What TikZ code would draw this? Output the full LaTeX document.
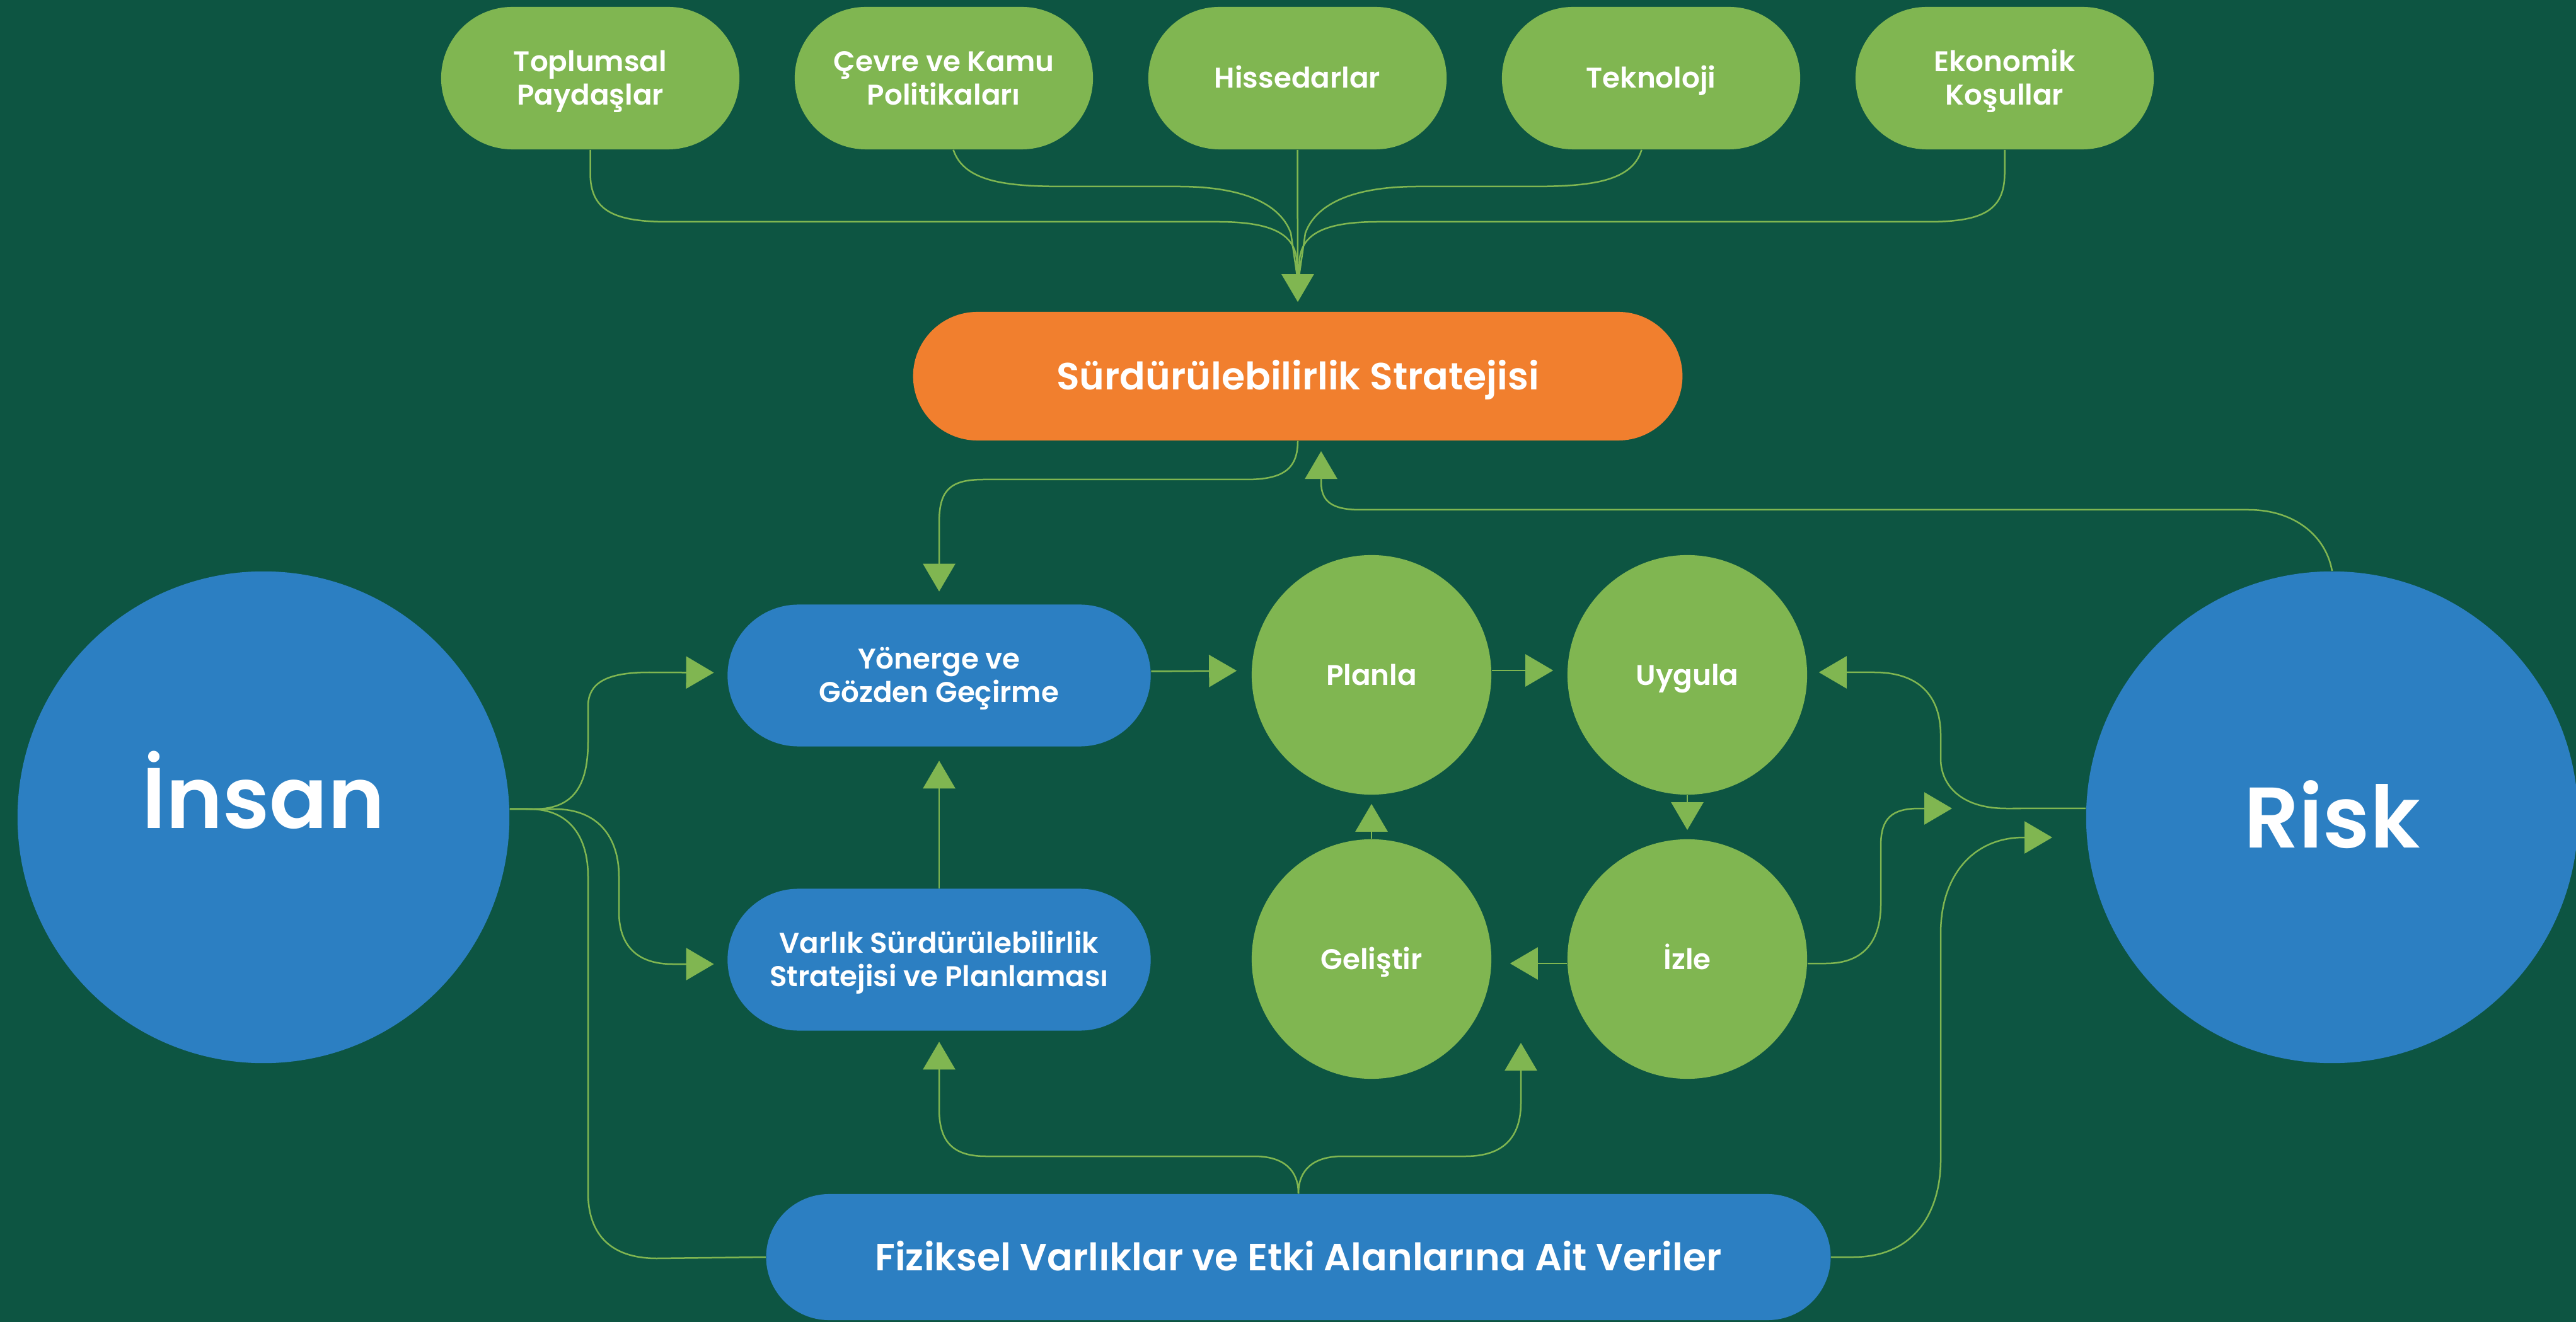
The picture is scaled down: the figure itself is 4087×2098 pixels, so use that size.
\documentclass[tikz,border=0pt]{standalone}
\usepackage{fontspec}
\setmainfont{Poppins}[UprightFont={* Medium},BoldFont={* SemiBold}]
\usetikzlibrary{arrows.meta}
\definecolor{bgc}{RGB}{13,85,66}
\definecolor{lgc}{RGB}{128,182,81}
\definecolor{blc}{RGB}{44,127,194}
\definecolor{orc}{RGB}{241,127,46}
\newcommand\dgSmall{\fontsize{12.85}{15.1}\selectfont\bfseries}
\newcommand\dgLarge{\fontsize{17.1}{20}\selectfont\bfseries}
\newcommand\dgHuge{\fontsize{38.8}{44}\selectfont\bfseries}
\begin{document}
\begin{tikzpicture}[x=0.01cm,y=-0.01cm,
  txt/.style={text=white, align=center, inner sep=0pt},
  one1/.style={text height=0.32cm, text depth=0pt},
  two2/.style={text height=0.85cm, text depth=0pt},
  pill/.style={txt, rectangle, fill=lgc, minimum width=4.73cm, minimum height=2.26cm, rounded corners=1.13cm, font=\dgSmall},
  orpill/.style={txt, rectangle, fill=orc, minimum width=12.2cm, minimum height=2.04cm, rounded corners=1.02cm, font=\dgLarge, text height=0.42cm, text depth=0pt},
  bpill/.style={txt, rectangle, fill=blc, minimum width=6.71cm, minimum height=2.25cm, rounded corners=1.125cm, font=\dgSmall},
  fizpill/.style={txt, rectangle, fill=blc, minimum width=16.88cm, minimum height=2.0cm, rounded corners=1.0cm, font=\dgLarge, text height=0.42cm, text depth=0pt},
  gcirc/.style={txt, circle, fill=lgc, minimum size=3.8cm, font=\dgSmall, one1},
  bcirc/.style={txt, circle, fill=blc, minimum size=7.8cm, font=\dgHuge, text height=0.97cm, text depth=0pt},
  conn/.style={draw=lgc, line width=0.025cm},
  arr/.style={conn, -{Triangle[length=0.44cm,width=0.51cm]}}
]
\fill[bgc] (0,0) rectangle (4087,2098);
\useasboundingbox (0,0) rectangle (4087,2098);

% top pills
\node[pill,two2] (p1) at (936.5,124) {Toplumsal\\Paydaşlar};
\node[pill,two2] (p2) at (1497.5,124) {Çevre ve Kamu\\Politikaları};
\node[pill,one1] (p3) at (2058.5,124) {Hissedarlar};
\node[pill,one1] (p4) at (2619.5,124) {Teknoloji};
\node[pill,two2] (p5) at (3180.5,124) {Ekonomik\\Koşullar};

\node[orpill] (strat) at (2059,597) {Sürdürülebilirlik Stratejisi};

\node[bpill,two2] (yon) at (1490,1072) {Yönerge ve\\Gözden Geçirme};
\node[bpill,two2] (var) at (1490,1523) {Varlık Sürdürülebilirlik\\Stratejisi ve Planlaması};
\node[fizpill] (fiz) at (2060,1995) {Fiziksel Varlıklar ve Etki Alanlarına Ait Veriler};

\node[gcirc] (plan) at (2176,1071) {Planla};
\node[gcirc] (uyg) at (2677,1071) {Uygula};
\node[gcirc] (gel) at (2176,1522) {Geliştir};
\node[gcirc] (izle) at (2677,1522) {İzle};

\node[bcirc, text depth=0.62cm] (ins) at (418,1297) {İnsan};
\node[bcirc] (risk) at (3700,1297) {Risk};

% named end points
\coordinate (insOut) at ([yshift=0.13cm]ins.east);
\coordinate (riskIn) at ([yshift=0.14cm]risk.west);
\coordinate (tipR) at (2096,716);
\coordinate (tipG) at (2413,1655);
\coordinate (tipIz) at (3097,1283);
\coordinate (tipRisk) at (3256,1329);

% top connectors
\draw[conn] (p1.south) -- (936.5,275) .. controls (936.5,335) and (975,352) .. (1060,352) -- (1932,352) .. controls (2015,352) and (2052,370) .. (2057,410) -- (2059,445);
\draw[conn] (p5.south) -- (3180.5,275) .. controls (3180.5,335) and (3144,352) .. (3059,352) -- (2187,352) .. controls (2104,352) and (2067,370) .. (2062,410) -- (2060,445);
\draw[conn] ([xshift=0.15cm]p2.south) .. controls (1530,290) and (1600,296) .. (1692,296) -- (1870,296) .. controls (1965,296) and (2030,320) .. (2048,370) -- (2059,445);
\draw[conn] ([xshift=-0.15cm]p4.south) .. controls (2589,290) and (2519,296) .. (2427,296) -- (2249,296) .. controls (2154,296) and (2089,320) .. (2071,370) -- (2060,445);
\draw[arr] (p3.south) -- ([yshift=0.15cm]strat.north);

% strategy -> Yonerge
\draw[arr] (strat.south) .. controls (2059,745) and (2035,761) .. (1977,761) -- (1560,761) .. controls (1505,761) and (1490,780) .. (1490,830) -- ([yshift=0.2cm]yon.north);
% Risk -> strategy
\draw[arr] (risk.north) .. controls (3690,850) and (3640,809) .. (3567,809) -- (2158,809) .. controls (2112,809) and (2096,795) .. (2096,765) -- (tipR);

% cycle
\draw[arr] ([yshift=0.065cm]yon.east) -- ([xshift=-0.23cm,yshift=0.065cm]plan.west);
\draw[arr] ([yshift=0.07cm]plan.east) -- ([xshift=-0.22cm,yshift=0.07cm]uyg.west);
\draw[arr] (uyg.south) -- ([yshift=0.14cm]izle.north);
\draw[arr] ([yshift=-0.07cm]izle.west) -- ([xshift=0.29cm,yshift=-0.07cm]gel.east);
\draw[arr] (gel.north) -- ([yshift=-0.14cm]plan.south);
\draw[arr] (var.north) -- ([yshift=-0.22cm]yon.south);

% Fiziksel up
\draw[arr] (fiz.north) .. controls (2060,1858) and (2038,1835) .. (1990,1835) -- (1564,1835) .. controls (1510,1835) and (1490,1810) .. (1490,1760) -- ([yshift=-0.17cm]var.south);
\draw[arr] (fiz.north) .. controls (2060,1858) and (2082,1835) .. (2130,1835) -- (2325,1835) .. controls (2390,1835) and (2413,1800) .. (2413,1750) -- (tipG);

% Insan branches
\draw[arr] (insOut) -- (848,1284) .. controls (915,1284) and (933,1240) .. (933,1176) -- (933,1121) .. controls (933,1085) and (960,1067) .. (1030,1067) -- ([xshift=-0.21cm,yshift=0.045cm]yon.west);
\draw[arr] (insOut) -- (880,1284) .. controls (950,1284) and (982,1330) .. (982,1391) -- (982,1447) .. controls (982,1500) and (1010,1530) .. (1067,1530) -- ([xshift=-0.21cm,yshift=-0.07cm]var.west);
\draw[conn] (insOut) -- (840,1284) .. controls (905,1284) and (933,1330) .. (933,1391) -- (933,1893) .. controls (933,1960) and (970,1997) .. (1042,1997) -- (fiz.west);

% Risk branches
\draw[arr] (riskIn) -- (3183,1283) .. controls (3110,1283) and (3079,1245) .. (3079,1204) -- (3079,1167) .. controls (3079,1100) and (3040,1067) .. (2974,1067) -- ([xshift=0.18cm,yshift=0.04cm]uyg.east);
\draw[arr] ([yshift=-0.07cm]izle.east) -- (2897,1529) .. controls (2960,1529) and (2984,1490) .. (2984,1435) -- (2984,1342) .. controls (2984,1300) and (3000,1283) .. (3045,1283) -- (tipIz);
\draw[arr] (fiz.east) -- (2940,1995) .. controls (3040,1995) and (3079,1920) .. (3079,1841) -- (3079,1481) .. controls (3079,1390) and (3130,1329) .. (3211,1329) -- (tipRisk);
\end{tikzpicture}
\end{document}
